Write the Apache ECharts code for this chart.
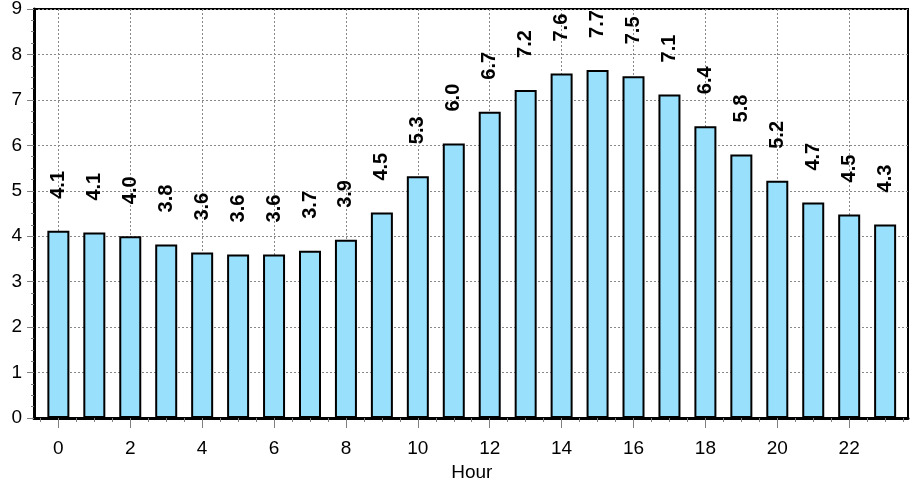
<!DOCTYPE html>
<html>
<head>
<meta charset="utf-8">
<script src="https://cdn.jsdelivr.net/npm/echarts@6/dist/echarts.min.js"></script>
<style>
  html, body { margin: 0; padding: 0; background: #fff; }
  #chart { width: 912px; height: 487px; }
</style>
</head>
<body>
<div id="chart"></div>
<script>
const hours = ['0', '1', '2', '3', '4', '5', '6', '7', '8', '9', '10', '11',
               '12', '13', '14', '15', '16', '17', '18', '19', '20', '21', '22', '23'];
const values = [4.12, 4.08, 4.00, 3.82, 3.64, 3.60, 3.60, 3.68, 3.92, 4.52, 5.32, 6.04,
                6.74, 7.22, 7.58, 7.66, 7.52, 7.12, 6.42, 5.80, 5.22, 4.74, 4.48, 4.26];
const yMin = 0;
const yMax = 9;

const chart = echarts.init(document.getElementById('chart'));
const font = "'Liberation Sans', Arial, sans-serif";
const tickGray = '#808080';
const isEven = (i) => i % 2 === 0;

const option = {
    animation: false,
    textStyle: { fontFamily: font },
    grid: [
        // frame + y axis
        { left: 34, right: 4, top: 9, bottom: 69, show: true, borderColor: '#000', borderWidth: 2, outerBoundsMode: 'none' },
        // bars (category band is narrower than the frame)
        { left: 40.4, right: 8.9, top: 9, bottom: 69, outerBoundsMode: 'none' }
    ],
    xAxis: [
        {
            gridIndex: 0, type: 'value', min: 0, max: 1, position: 'bottom',
            axisLine: { show: true, lineStyle: { color: '#000', width: 3 } },
            axisTick: { show: false }, axisLabel: { show: false }, splitLine: { show: false }
        },
        {
            // short ticks on the category boundaries
            gridIndex: 1, type: 'category', data: hours, position: 'bottom',
            axisLine: { show: false },
            axisTick: { show: true, interval: 0, length: 4, lineStyle: { color: tickGray } },
            axisLabel: { show: false }, splitLine: { show: false }
        },
        {
            // short ticks on odd hours
            gridIndex: 1, type: 'category', data: hours, position: 'bottom',
            axisLine: { show: false },
            axisTick: { show: true, alignWithLabel: true, interval: (i) => !isEven(i), length: 4, lineStyle: { color: tickGray } },
            axisLabel: { show: false }, splitLine: { show: false }
        },
        {
            gridIndex: 1, type: 'category', data: hours, position: 'bottom',
            name: 'Hour', nameLocation: 'middle', nameGap: 45,
            nameTextStyle: { fontSize: 19, color: '#000', fontFamily: font },
            axisLine: { show: false },
            axisTick: { show: true, alignWithLabel: true, interval: isEven, length: 10, lineStyle: { color: tickGray } },
            axisLabel: { interval: 1, fontSize: 19, color: '#000', margin: 21, fontFamily: font },
            splitLine: {
                show: true, alignWithLabel: true, interval: isEven,
                lineStyle: { color: '#888', type: [2, 2], width: 1 }
            }
        }
    ],
    yAxis: [
        {
            gridIndex: 0, type: 'value', min: yMin, max: yMax, interval: 1,
            axisLine: { show: true, lineStyle: { color: '#000', width: 3 } },
            axisTick: { show: true, length: 7, lineStyle: { color: tickGray } },
            minorTick: { show: true, splitNumber: 4, length: 3, lineStyle: { color: tickGray } },
            axisLabel: { fontSize: 19, color: '#000', margin: 12, fontFamily: font },
            splitLine: { show: true, lineStyle: { color: '#888', type: [2, 2], width: 1 } }
        },
        {
            gridIndex: 1, type: 'value', min: yMin, max: yMax, show: false
        }
    ],
    series: [{
        type: 'bar',
        xAxisIndex: 3,
        yAxisIndex: 1,
        data: values,
        barWidth: 22,
        itemStyle: { color: '#99e0fd', borderColor: '#000', borderWidth: 2 },
        label: {
            show: true,
            position: 'top',
            rotate: 90,
            align: 'left',
            verticalAlign: 'middle',
            distance: 32,
            fontSize: 20,
            fontWeight: 'bold',
            color: '#000',
            fontFamily: font,
            formatter: (p) => p.value.toFixed(1)
        }
    }]
};

chart.setOption(option);
</script>
</body>
</html>
